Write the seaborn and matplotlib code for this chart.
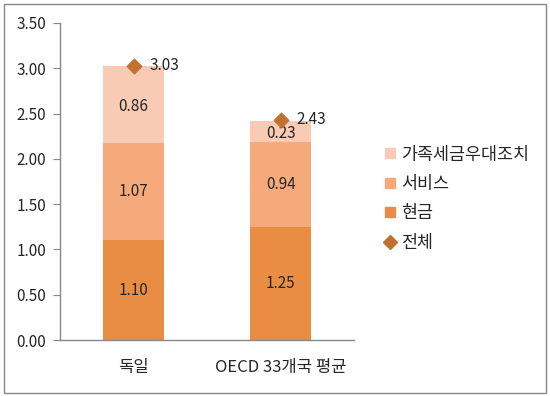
import numpy as np
import pandas as pd
import seaborn as sns
import matplotlib.pyplot as plt
from matplotlib.patches import Rectangle
from matplotlib.lines import Line2D

# data
countries = ["독일", "OECD 33개국 평균"]
cash = [1.10, 1.25]
services = [1.07, 0.94]
tax = [0.86, 0.23]
total = [3.03, 2.43]

c_cash = "#E98D45"
c_serv = "#F6AA7B"
c_tax = "#F9CBB5"
c_tot = "#C0712F"

sns.set_style("white")
plt.rcParams['font.family'] = ['Noto Sans CJK KR', 'DejaVu Sans']

df = pd.DataFrame({"country": countries, "cash": cash, "services": services,
                   "tax": tax, "total": total})
df["b2"] = df["cash"]
df["b3"] = df["cash"] + df["services"]

fig = plt.figure(figsize=(5.5, 3.96), dpi=100)
ax = fig.add_axes([0.109, 0.1414, 0.535, 0.8006])

w = 0.41
sns.barplot(data=df, x="country", y="cash", color=c_cash, width=w, ax=ax,
            saturation=1, linewidth=0)
sns.barplot(data=df, x="country", y="services", bottom=df["b2"], color=c_serv,
            width=w, ax=ax, saturation=1, linewidth=0)
sns.barplot(data=df, x="country", y="tax", bottom=df["b3"], color=c_tax,
            width=w, ax=ax, saturation=1, linewidth=0)
sns.scatterplot(data=df, x="country", y="total", marker="D", color=c_tot,
                s=60, ax=ax, zorder=5, edgecolor=c_tot)

# segment labels
fs = 11
for i in range(len(countries)):
    ax.text(i, cash[i] / 2, f"{cash[i]:.2f}", ha="center", va="center", fontsize=fs)
    ax.text(i, cash[i] + services[i] / 2, f"{services[i]:.2f}", ha="center",
            va="center", fontsize=fs)
    ax.text(i, cash[i] + services[i] + tax[i] / 2 - 0.02, f"{tax[i]:.2f}",
            ha="center", va="center", fontsize=fs)
    ax.text(i + 0.11, total[i], f"{total[i]:.2f}", ha="left", va="center",
            fontsize=fs)

ax.set_xlim(-0.5, 1.5)
ax.set_ylim(0, 3.5)
ax.set_yticks(np.arange(0, 3.51, 0.5))
ax.set_yticklabels([f"{v:.2f}" for v in np.arange(0, 3.51, 0.5)], fontsize=fs)
ax.set_xticks([0, 1])
ax.set_xticklabels(countries, fontsize=12)
ax.set_xticks([-0.5, 0.5, 1.5], minor=True)
ax.tick_params(axis="x", which="major", length=0, pad=14)
ax.tick_params(axis="x", which="minor", length=5, color="#888888", direction="out")
ax.tick_params(axis="y", length=5, color="#888888", direction="out", left=True, pad=5)
ax.set_xlabel("")
ax.set_ylabel("")
for s in ["top", "right"]:
    ax.spines[s].set_visible(False)
for s in ["left", "bottom"]:
    ax.spines[s].set_color("#888888")
    ax.spines[s].set_linewidth(1)

handles = [
    Line2D([], [], marker="s", linestyle="", color=c_tax, markersize=7),
    Line2D([], [], marker="s", linestyle="", color=c_serv, markersize=7),
    Line2D([], [], marker="s", linestyle="", color=c_cash, markersize=7),
    Line2D([], [], marker="D", linestyle="", color=c_tot, markersize=7),
]
labels = ["가족세금우대조치", "서비스", "현금", "전체"]
fig.legend(handles, labels, loc="upper left", bbox_to_anchor=(0.68, 0.65),
           frameon=False, fontsize=12.5, handletextpad=0.15, labelspacing=0.66,
           handlelength=1.0, borderaxespad=0)

fig.patches.append(Rectangle((0.007, 0.008), 0.985, 0.982, transform=fig.transFigure,
                             fill=False, edgecolor="#888888", linewidth=1))

fig.savefig("out.png", dpi=100)
